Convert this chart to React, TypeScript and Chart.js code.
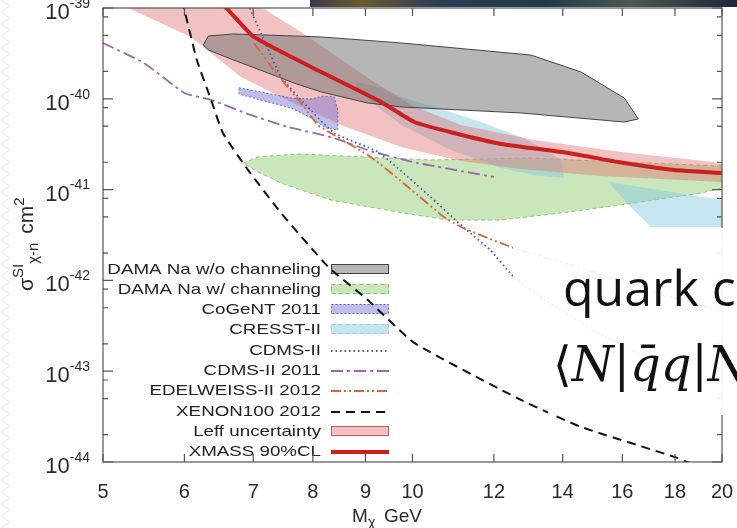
import React, { useEffect, useRef } from 'react';
import { Chart, registerables } from 'chart.js';
Chart.register(...registerables);

// ---------- axes ----------
const massTicks = [5, 6, 7, 8, 9, 10, 12, 14, 16, 18, 20];
const sigmaDecades = [-44, -43, -42, -41, -40, -39];
const sigmaMinor = [2, 5, 8];

const legendLabels = [
  'DAMA Na w/o channeling',
  'DAMA Na w/ channeling',
  'CoGeNT 2011',
  'CRESST-II',
  'CDMS-II',
  'CDMS-II 2011',
  'EDELWEISS-II 2012',
  'XENON100 2012',
  'Leff uncertainty',
  'XMASS 90%CL',
];

// ---------- series (mass in GeV, cross-section in cm^2) ----------
const xmassMass = [6.47, 6.62, 7.01, 8.15, 9.32, 10.04, 10.97, 12.2, 14.17, 15.85, 17.97, 20];
const xmassSigma = [1.22e-39, 9.5e-40, 4.8e-40, 1.97e-40, 9.23e-41, 5.55e-41, 4.2e-41, 3.18e-41, 2.53e-41, 2.01e-41, 1.64e-41, 1.52e-41];

const leffMass = [6.95, 7.2, 7.79, 9.05, 9.97, 11.15, 13.13, 15.95, 20, 20, 15.26, 12.75, 11.15, 9.75, 8.52, 7.62, 6.81, 6.09, 5.09, 6.95];
const leffSigma = [1.22e-39, 9.5e-40, 5.45e-40, 1.7e-40, 8.55e-41, 5.14e-41, 3.52e-41, 2.59e-41, 1.96e-41, 1.21e-41, 1.41e-41, 1.69e-41, 2.07e-41, 2.94e-41, 5.14e-41, 9.23e-41, 1.74e-40, 4.8e-40, 1.22e-39, 1.22e-39];

const xenonMass = [5.96, 6.0, 6.17, 6.37, 6.54, 6.92, 7.45, 8.28, 9.05, 10.04, 12.75, 14.59, 17.97, 19.3];
const xenonSigma = [1.22e-39, 9.5e-40, 2.67e-40, 9.7e-41, 4.2e-41, 1.64e-41, 5.52e-42, 1.41e-42, 6.08e-43, 2.05e-43, 4.82e-44, 2.43e-44, 1.14e-44, 8.2e-45];

const cdms11Mass = [5.0, 5.48, 6.0, 6.37, 6.96, 7.57, 8.33, 9.17, 10.12, 12.0];
const cdms11Sigma = [4.12e-40, 2.48e-40, 1.16e-40, 9.7e-41, 6.64e-41, 4.89e-41, 3.79e-41, 2.59e-41, 1.96e-41, 1.38e-41];

const cdmsMass = [6.89, 7.12, 7.45, 7.84, 8.39, 9.26, 10.36, 11.2, 11.9, 12.55, 13.46, 14.87, 16.65];
const cdmsSigma = [1.22e-39, 5.31e-40, 1.74e-40, 8.99e-41, 4.2e-41, 2.59e-41, 8.73e-42, 3.87e-42, 2.16e-42, 1.09e-42, 6.08e-43, 2.99e-43, 1.51e-43];

const edwMass = [7.01, 7.33, 7.79, 8.09, 8.39, 9.11, 9.9, 10.73, 11.15, 12.55, 14.56, 17.03, 20];
const edwSigma = [4.12e-40, 2.07e-40, 8.99e-41, 5.14e-41, 3.99e-41, 2.29e-41, 1.07e-41, 4.99e-42, 3.87e-42, 2.27e-42, 1.37e-42, 7.84e-43, 4.49e-43];

const damaMass = [6.26, 6.33, 6.7, 8.15, 9.75, 13.04, 14.59, 16.07, 16.58, 16.07, 12.75, 9.75, 9.05, 8.15, 7.67, 7.24, 6.7, 6.33, 6.26];
const damaSigma = [3.92e-40, 4.92e-40, 5.18e-40, 4.8e-40, 4.12e-40, 3.03e-40, 1.97e-40, 1.02e-40, 6.0e-41, 5.55e-41, 6.98e-41, 8.13e-41, 8.99e-41, 1.19e-40, 1.49e-40, 1.92e-40, 2.67e-40, 3.45e-40, 3.92e-40];

const damaChMass = [6.84, 7.08, 7.74, 8.97, 10.43, 13.04, 15.95, 20, 20, 19.09, 16.43, 14.17, 12.2, 10.83, 9.68, 8.33, 7.45, 7.08, 6.84];
const damaChSigma = [1.96e-41, 2.29e-41, 2.47e-41, 2.29e-41, 2.12e-41, 2.23e-41, 2.01e-41, 1.82e-41, 1.04e-41, 9.18e-42, 7.11e-42, 5.66e-42, 4.62e-42, 4.62e-42, 5.66e-42, 7.68e-42, 1.18e-41, 1.56e-41, 1.96e-41];

const cogentMass = [6.78, 7.12, 7.62, 7.97, 8.18, 8.39, 8.46, 8.46, 8.24, 7.97, 7.62, 7.12, 6.78, 6.78];
const cogentSigma = [1.32e-40, 1.19e-40, 1.02e-40, 9.95e-41, 1.07e-40, 1.05e-40, 7.53e-41, 4.53e-41, 4.77e-41, 6.15e-41, 7.93e-41, 9.7e-41, 1.13e-40, 1.32e-40];

const cresstAMass = [8.81, 9.32, 9.75, 10.73, 11.66, 12.75, 13.49, 13.95, 14.04, 13.13, 12.2, 10.9, 9.75, 8.81, 8.81];
const cresstASigma = [1.53e-40, 1.32e-40, 1.05e-40, 7.53e-41, 5.55e-41, 3.79e-41, 2.73e-41, 2.12e-41, 1.34e-41, 1.45e-41, 1.73e-41, 2.73e-41, 5.14e-41, 1.25e-40, 1.53e-40];

const cresstBMass = [15.5, 20, 20, 17.07, 16.3, 15.5];
const cresstBSigma = [1.21e-41, 7.68e-42, 3.87e-42, 3.87e-42, 6.43e-42, 1.21e-41];

// ---------- styles ----------
const FONT = '"Liberation Sans", Arial, Helvetica, sans-serif';
const C = {
  gray: 'rgba(115,115,115,0.52)',
  grayLine: '#444444',
  green: 'rgba(150,205,120,0.5)',
  greenLine: 'rgba(135,190,105,0.9)',
  cogent: 'rgba(110,110,205,0.45)',
  cogentLine: 'rgba(95,95,185,0.9)',
  cresst: 'rgba(140,205,222,0.5)',
  cresstLine: 'rgba(150,205,220,0.9)',
  cdms: '#4656a6',
  cdms11: '#9a6aa8',
  edw: '#d0683a',
  xenon: '#111111',
  leff: 'rgba(225,110,110,0.42)',
  leffLine: '#c85a5a',
  xmass: '#cc1f1f',
};
const DASH = {
  cdms: [1.5, 3],
  cdms11: [12, 4, 3, 4],
  edw: [10, 3, 2, 3, 2, 3],
  xenon: [9, 6],
  green: [4, 3],
  cogent: [2, 2],
};

const pts = (m: number[], s: number[]) => m.map((v, i) => ({ x: v, y: s[i] }));

const legendRowY = [269, 289, 309, 329, 350, 370, 390, 411, 431, 451];

function drawLegend(ctx: CanvasRenderingContext2D) {
  const x0 = 331;
  const x1 = 389;
  legendLabels.forEach((label, i) => {
    const y = legendRowY[i];
    ctx.save();
    ctx.translate(321, y);
    ctx.scale(1.25, 1);
    ctx.font = `15px ${FONT}`;
    ctx.fillStyle = '#222';
    ctx.textAlign = 'right';
    ctx.textBaseline = 'middle';
    ctx.fillText(label, 0, 1);
    ctx.restore();

    ctx.save();
    const box = (fill: string, stroke: string, dash: number[]) => {
      ctx.fillStyle = fill;
      ctx.fillRect(x0, y - 5, x1 - x0, 10);
      ctx.setLineDash(dash);
      ctx.strokeStyle = stroke;
      ctx.lineWidth = 1;
      ctx.strokeRect(x0 + 0.5, y - 4.5, x1 - x0 - 1, 9);
    };
    const line = (stroke: string, dash: number[], w: number) => {
      ctx.setLineDash(dash);
      ctx.strokeStyle = stroke;
      ctx.lineWidth = w;
      ctx.beginPath();
      ctx.moveTo(x0, y + 1);
      ctx.lineTo(x1, y + 1);
      ctx.stroke();
    };
    if (i === 0) box(C.gray, C.grayLine, []);
    if (i === 1) box(C.green, C.greenLine, DASH.green);
    if (i === 2) box(C.cogent, C.cogentLine, DASH.cogent);
    if (i === 3) box(C.cresst, C.cresstLine, DASH.green);
    if (i === 4) line(C.cdms, DASH.cdms, 1.8);
    if (i === 5) line(C.cdms11, DASH.cdms11, 1.8);
    if (i === 6) line(C.edw, DASH.edw, 1.8);
    if (i === 7) line(C.xenon, DASH.xenon, 2);
    if (i === 8) box(C.leff, C.leffLine, []);
    if (i === 9) line(C.xmass, [], 4);
    ctx.restore();
  });
}

function drawFrame(chart: any) {
  const { ctx, chartArea: a, scales } = chart;
  const xs = scales.x;
  const ys = scales.y;
  ctx.save();
  ctx.strokeStyle = '#555';
  ctx.lineWidth = 1.2;
  ctx.setLineDash([]);
  ctx.strokeRect(a.left, a.top, a.right - a.left, a.bottom - a.top);
  ctx.beginPath();
  massTicks.forEach((v) => {
    const px = xs.getPixelForValue(v);
    ctx.moveTo(px, a.bottom);
    ctx.lineTo(px, a.bottom - 8);
    ctx.moveTo(px, a.top);
    ctx.lineTo(px, a.top + 8);
  });
  sigmaDecades.forEach((d) => {
    const py = ys.getPixelForValue(Math.pow(10, d));
    ctx.moveTo(a.left, py);
    ctx.lineTo(a.left + 10, py);
    ctx.moveTo(a.right, py);
    ctx.lineTo(a.right - 10, py);
    if (d < -39) {
      sigmaMinor.forEach((m) => {
        const q = ys.getPixelForValue(m * Math.pow(10, d));
        ctx.moveTo(a.left, q);
        ctx.lineTo(a.left + 5, q);
        ctx.moveTo(a.right, q);
        ctx.lineTo(a.right - 5, q);
      });
    }
  });
  ctx.stroke();

  // x tick labels
  ctx.fillStyle = '#2a2a2a';
  ctx.font = `20px ${FONT}`;
  ctx.textAlign = 'center';
  ctx.textBaseline = 'middle';
  massTicks.forEach((v) => ctx.fillText(String(v), xs.getPixelForValue(v), 492));

  // y tick labels 10^n
  sigmaDecades.forEach((d) => {
    const py = ys.getPixelForValue(Math.pow(10, d));
    const exp = String(d);
    ctx.font = `14px ${FONT}`;
    const ew = ctx.measureText(exp).width;
    const right = a.left - 13;
    ctx.textAlign = 'left';
    ctx.fillText(exp, right - ew, py - 4);
    ctx.font = `22px ${FONT}`;
    ctx.textAlign = 'right';
    ctx.fillText('10', right - ew, py + 5);
  });

  // x title: M_chi GeV
  ctx.textBaseline = 'alphabetic';
  ctx.textAlign = 'left';
  ctx.font = `19px ${FONT}`;
  ctx.fillText('M', 352, 522);
  ctx.font = `14px ${FONT}`;
  ctx.fillText('χ', 368, 527);
  ctx.font = `19px ${FONT}`;
  ctx.fillText('GeV', 384, 522);

  // y title: sigma^SI_chi-n cm^2
  ctx.save();
  ctx.translate(33, 291);
  ctx.rotate(-Math.PI / 2);
  let cx = 0;
  const seg = (t: string, size: number, dy: number) => {
    ctx.font = `${size}px ${FONT}`;
    ctx.fillText(t, cx, dy);
    cx += ctx.measureText(t).width;
  };
  seg('σ', 21, 0);
  seg('SI', 15, -10);
  seg('χ-n', 15, 5);
  cx += 9;
  seg('cm', 21, 0);
  seg('2', 15, -9);
  ctx.restore();
  ctx.restore();
}

const decorPlugin = {
  id: 'decor',
  beforeDatasetsDraw(chart: any) {
    drawLegend(chart.ctx);
  },
  afterDraw(chart: any) {
    drawFrame(chart);
  },
};

function zigzag() {
  const p: string[] = [];
  for (let y = 0; y <= 528; y += 6) p.push(`${(y / 6) % 2 === 0 ? 2 : 9},${y}`);
  return p.join(' ');
}

export default function App() {
  const ref = useRef<HTMLCanvasElement | null>(null);
  useEffect(() => {
    if (!ref.current) return;
    const lineDs = (label: string, m: number[], s: number[], color: string, dash: number[], w: number) => ({
      label,
      data: pts(m, s),
      showLine: true,
      borderColor: color,
      borderWidth: w,
      borderDash: dash,
      pointRadius: 0,
      tension: 0.15,
      fill: false,
      clip: 0,
    });
    const polyDs = (label: string, m: number[], s: number[], fill: string, stroke: string, dash: number[], w: number) => ({
      label,
      data: pts(m, s),
      showLine: true,
      backgroundColor: fill,
      borderColor: stroke,
      borderWidth: w,
      borderDash: dash,
      pointRadius: 0,
      tension: 0,
      fill: 'shape',
      clip: 0,
    });
    const datasets: any[] = [
      lineDs('XMASS 90%CL', xmassMass, xmassSigma, C.xmass, [], 4),
      lineDs('XENON100 2012', xenonMass, xenonSigma, C.xenon, DASH.xenon, 2),
      lineDs('EDELWEISS-II 2012', edwMass, edwSigma, C.edw, DASH.edw, 1.8),
      lineDs('CDMS-II', cdmsMass, cdmsSigma, C.cdms, DASH.cdms, 1.8),
      lineDs('CDMS-II 2011', cdms11Mass, cdms11Sigma, C.cdms11, DASH.cdms11, 1.8),
      polyDs('CoGeNT 2011', cogentMass, cogentSigma, C.cogent, C.cogentLine, DASH.cogent, 1),
      polyDs('DAMA Na w/o channeling', damaMass, damaSigma, C.gray, C.grayLine, [], 1),
      polyDs('Leff uncertainty', leffMass, leffSigma, C.leff, 'rgba(0,0,0,0)', [], 0),
      polyDs('CRESST-II', cresstAMass, cresstASigma, C.cresst, 'rgba(0,0,0,0)', [], 0),
      polyDs('CRESST-II b', cresstBMass, cresstBSigma, C.cresst, 'rgba(0,0,0,0)', [], 0),
      polyDs('DAMA Na w/ channeling', damaChMass, damaChSigma, C.green, C.greenLine, DASH.green, 1),
    ];
    const chart = new Chart(ref.current, {
      type: 'scatter',
      data: { datasets },
      options: {
        responsive: false,
        animation: false,
        layout: { padding: { left: 103, right: 15, top: 8, bottom: 66 } },
        plugins: { legend: { display: false }, tooltip: { enabled: false } },
        scales: {
          x: { type: 'logarithmic', min: 5, max: 20, display: false },
          y: { type: 'logarithmic', min: 1e-44, max: 1e-39, display: false },
        },
      },
      plugins: [decorPlugin],
    } as any);
    return () => chart.destroy();
  }, []);

  return (
    <div style={{ position: 'fixed', left: 0, top: 0, width: 737, height: 528, overflow: 'hidden', background: '#fff' }}>
      <svg width={12} height={528} style={{ position: 'absolute', left: 0, top: 0 }}>
        <polyline points={zigzag()} fill="none" stroke="#e6e6e6" strokeWidth={1} />
      </svg>
      <canvas ref={ref} width={737} height={528} style={{ display: 'block', position: 'absolute', left: 0, top: 0 }} />
      <div
        style={{
          position: 'absolute', left: 310, top: 0, width: 427, height: 7,
          background: 'linear-gradient(90deg,#3b3a4a 0%,#6a5a30 12%,#2c3d55 30%,#1f3a4a 55%,#4a5a50 75%,#1a2a3a 100%)',
        }}
      />
      <div style={{ position: 'absolute', left: 513, top: 228, width: 224, height: 105, background: 'rgba(255,255,255,0.92)' }} />
      <div style={{ position: 'absolute', left: 548, top: 333, width: 189, height: 82, background: 'rgba(255,255,255,0.92)' }} />
      <div
        style={{
          position: 'absolute', left: 563, top: 262, fontFamily: '"Open Sans", "Noto Sans", sans-serif',
          fontSize: 50, lineHeight: '50px', whiteSpace: 'nowrap', color: '#111',
        }}
      >
        quark c
      </div>
      <div
        style={{
          position: 'absolute', left: 553, top: 336, fontFamily: '"DejaVu Serif", "Liberation Serif", serif',
          fontSize: 48, lineHeight: '56px', whiteSpace: 'nowrap', color: '#111',
        }}
      >
        ⟨<i>N</i>|<i>{'q\u0304'}</i><i>q</i>|<i>N</i>
      </div>
    </div>
  );
}
